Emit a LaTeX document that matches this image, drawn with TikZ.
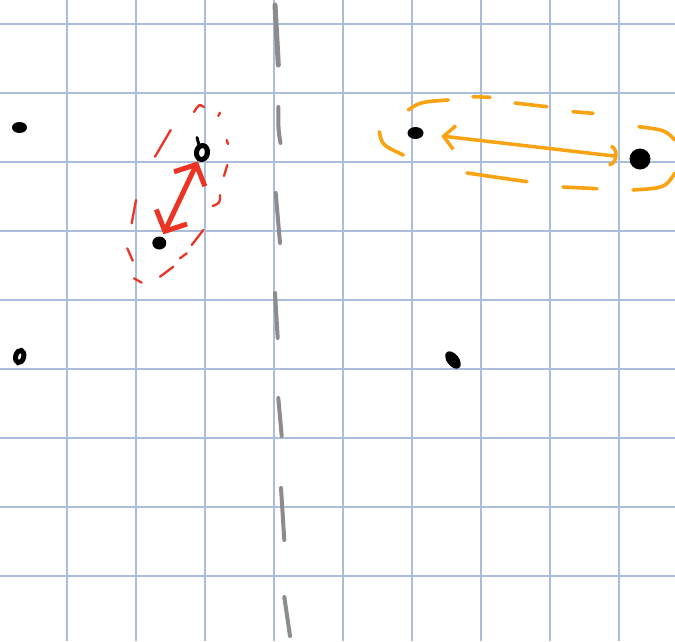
\documentclass[tikz,border=0pt]{standalone}
\usetikzlibrary{arrows.meta,shapes.geometric}
\definecolor{gridblue}{RGB}{170,190,220}
\definecolor{pengray}{RGB}{140,140,140}
\definecolor{penred}{RGB}{236,52,36}
\definecolor{penorange}{RGB}{250,163,18}
\begin{document}
\begin{tikzpicture}[x=1pt,y=-1pt,
  gridln/.style={gridblue,line width=1.3pt},
  graydash/.style={pengray,line width=4pt,line cap=round},
  reddash/.style={penred,line width=2.3pt,line cap=round},
  orangedash/.style={penorange,line width=3.6pt,line cap=round},
  blackdot/.style={ellipse,fill=black,inner sep=0pt,outer sep=0pt},
  ringdot/.style={ellipse,draw=black,line width=5pt,inner sep=0pt,outer sep=0pt},
  redarrow/.style={penred,line width=5pt,line cap=round,line join=round,
    {Straight Barb[length=16pt,width=34pt]}-{Straight Barb[length=16pt,width=34pt]}},
  orangearrow/.style={penorange,line width=3.5pt,line cap=round,line join=round,
    {Straight Barb[length=11pt,width=24pt]}-{Arc Barb[length=8pt,width=22pt]}}
]
\fill[white] (0,0) rectangle (675,641);
\useasboundingbox (0,0) rectangle (675,641);
% grid
\foreach \k in {0,...,8} {
  \draw[gridln] ({67+69*\k},0) -- ({67+69*\k},641);
  \draw[gridln] (0,{24+69*\k}) -- (675,{24+69*\k});
}
% gray dashed divider
\draw[graydash,line width=5pt] (275,5) -- (278.3,65);
\draw[graydash] (278.3,107) .. controls (278.3,130) .. (280.5,143);
\draw[graydash] (275.7,193) -- (280,243);
\draw[graydash] (275,293) -- (277.7,338);
\draw[graydash] (278.3,398) -- (281.7,436);
\draw[graydash] (281,488) -- (284.3,540);
\draw[graydash] (284.3,597) -- (290,636);
% dots
\node[blackdot,minimum width=15pt,minimum height=11pt] (A) at (19.5,127.5) {};
\node[ringdot,minimum width=8pt,minimum height=12.5pt,rotate=-15] (B) at (19.7,356.5) {};
\node[blackdot,minimum width=20pt,minimum height=12pt,rotate=-52] (C) at (453,360) {};
\node[ringdot,minimum width=11pt,minimum height=14pt,rotate=-10] (D) at (202,152.5) {};
\draw[black,line width=3pt,line cap=round] (197,137.5) -- (199,145);
\node[blackdot,minimum width=14pt,minimum height=13pt] (E) at (159.3,243) {};
\node[blackdot,minimum width=16pt,minimum height=12pt] (F) at (415.5,133) {};
\node[blackdot,minimum width=21pt,minimum height=21pt] (G) at (640,159) {};
% red group
\draw[redarrow,shorten <=3pt,shorten >=3pt] (E) -- (D);
\draw[reddash] (194,112) .. controls (199,104) .. (204,107);
\draw[reddash] (218.3,116) -- (220,112.7);
\draw[reddash] (226.7,140) -- (228,144);
\draw[reddash] (227.3,165) -- (224,176);
\draw[reddash] (220,195) .. controls (220,203) .. (212.7,206);
\draw[reddash] (203.3,230) -- (191.7,245);
\draw[reddash] (186.7,253.3) -- (180,258.3);
\draw[reddash] (173.3,266.7) -- (160,276.7);
\draw[reddash] (141.7,282.7) -- (134,278.3);
\draw[reddash] (132.7,260.7) -- (127.3,248.3);
\draw[reddash] (136,200) -- (131.7,223.3);
\draw[reddash] (155,156.7) -- (170.7,130);
% orange group
\draw[orangearrow,shorten <=18pt,shorten >=12pt] (F) -- (G);
\draw[orangedash] (408.3,110) .. controls (420,102) .. (448.3,100);
\draw[orangedash] (473,96.7) -- (490,97.3);
\draw[orangedash] (515,103) -- (547,106.7);
\draw[orangedash] (573,111.7) -- (593,113.3);
\draw[orangedash] (639,126.7) .. controls (665,130) .. (675,140);
\draw[orangedash] (675,173) .. controls (665,188) .. (633,190);
\draw[orangedash] (563,187) -- (597,188.7);
\draw[orangedash] (467,173) -- (527,181.7);
\draw[orangedash] (403.3,155) .. controls (382,145) .. (379.3,131.7);
\end{tikzpicture}
\end{document}
